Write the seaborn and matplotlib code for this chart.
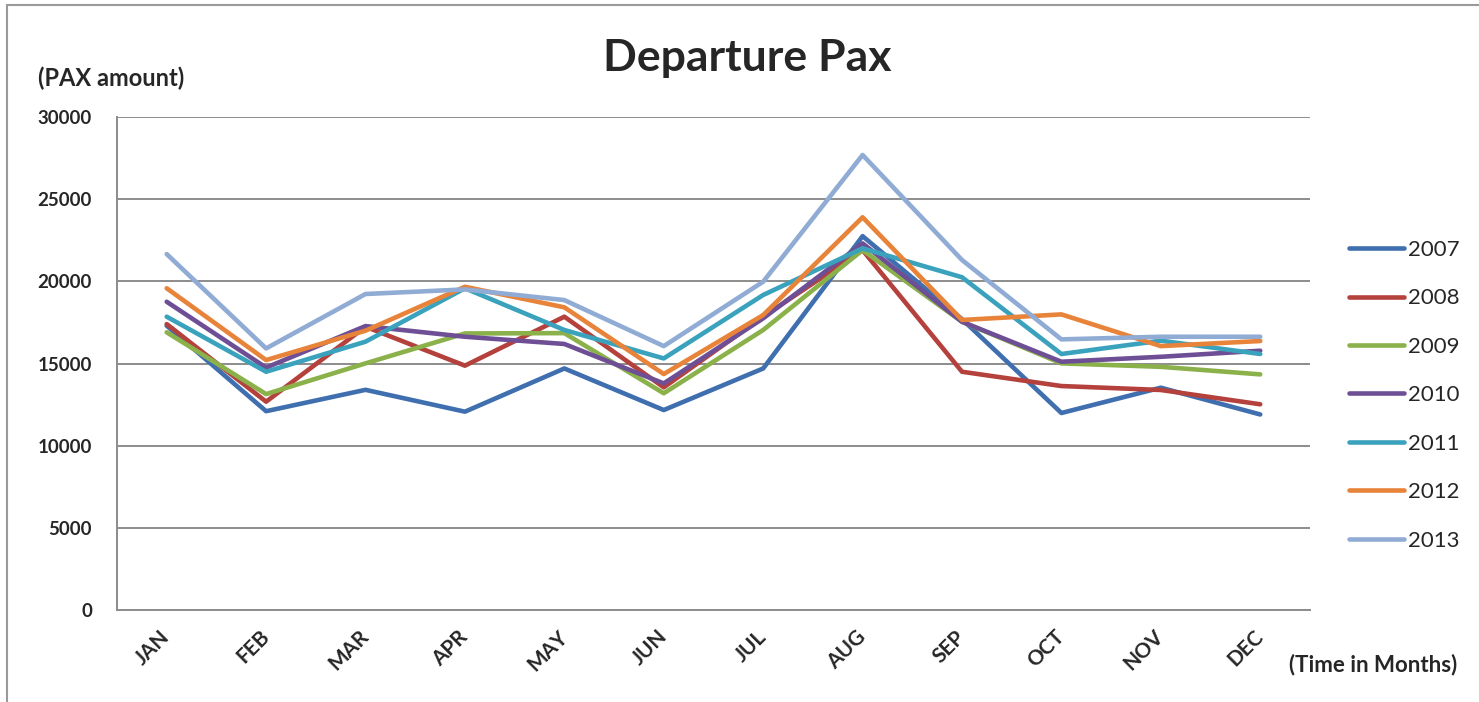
import pandas as pd
import seaborn as sns
import matplotlib.pyplot as plt
from matplotlib.patches import Rectangle

months = ['JAN', 'FEB', 'MAR', 'APR', 'MAY', 'JUN', 'JUL', 'AUG', 'SEP', 'OCT', 'NOV', 'DEC']
years = ['2007', '2008', '2009', '2010', '2011', '2012', '2013']

pax_2007 = [17300, 12100, 13400, 12070, 14700, 12170, 14700, 22750, 17700, 11990, 13530, 11900]
pax_2008 = [17400, 12680, 17240, 14870, 17850, 13550, 17850, 21900, 14500, 13630, 13390, 12520]
pax_2009 = [16900, 13140, 15010, 16830, 16850, 13190, 17040, 21900, 17540, 15010, 14800, 14340]
pax_2010 = [18760, 14750, 17280, 16630, 16190, 13790, 17750, 22310, 17540, 15110, 15410, 15780]
pax_2011 = [17850, 14500, 16330, 19580, 17040, 15310, 19170, 22010, 20250, 15580, 16390, 15580]
pax_2012 = [19580, 15210, 17000, 19670, 18420, 14360, 17950, 23900, 17650, 17990, 16060, 16370]
pax_2013 = [21660, 15920, 19230, 19510, 18860, 16060, 19980, 27690, 21300, 16470, 16630, 16630]

colors = ['#3F6FAE', '#B5413D', '#8AB14A', '#6E4F96', '#3AA2BC', '#E8833A', '#90ACD5']

series = [pax_2007, pax_2008, pax_2009, pax_2010, pax_2011, pax_2012, pax_2013]
df = pd.DataFrame({
    'month': months * len(years),
    'year': [y for y in years for _ in months],
    'pax': [v for s in series for v in s],
})

sns.set_style('white')
plt.rcParams['font.family'] = ['Lato', 'DejaVu Sans']

fig = plt.figure(figsize=(14.79, 7.02), dpi=100)
ax = fig.add_axes([0.0791, 0.131, 0.8066, 0.7023])

sns.lineplot(data=df, x='month', y='pax', hue='year', palette=colors,
             linewidth=3.3, sort=False, ax=ax)

ax.set_xlim(-0.5, 11.5)
ax.set_ylim(0, 30000)
ax.set_yticks(range(0, 30001, 5000))
ax.grid(axis='y', color='#8c8c8c', linewidth=1.4)
ax.set_axisbelow(True)
for s in ['top', 'right']:
    ax.spines[s].set_visible(False)
for s in ['left', 'bottom']:
    ax.spines[s].set_color('#8c8c8c')
    ax.spines[s].set_linewidth(1.4)
ax.set_xlabel('')
ax.set_ylabel('')
ax.tick_params(axis='y', length=0, pad=18, labelsize=13.5)
ax.tick_params(axis='x', length=0, pad=17, labelsize=15)
for lab in ax.get_yticklabels():
    lab.set_fontweight('bold')
plt.setp(ax.get_xticklabels(), rotation=45, ha='right', va='center',
         rotation_mode='anchor', fontweight='bold')

ax.legend(loc='center left', bbox_to_anchor=(0.912, 0.437),
          bbox_transform=fig.transFigure, frameon=False, fontsize=16,
          handlelength=2.5, handletextpad=0.15, labelspacing=1.28,
          borderpad=0, borderaxespad=0)

fig.text(0.505, 0.917, 'Departure Pax', ha='center', va='center',
         fontsize=32, fontweight='bold')
fig.text(0.0257, 0.889, '(PAX amount)', ha='left', va='center',
         fontsize=17, fontweight='bold')
fig.text(0.8716, 0.0527, '(Time in Months)', ha='left', va='center',
         fontsize=16, fontweight='bold')

fig.patches.append(Rectangle((0.005, -0.05), 1.2, 1.043, transform=fig.transFigure,
                             fill=False, edgecolor='#9a9a9a', linewidth=1.5))

fig.savefig('out.png', dpi=100)
